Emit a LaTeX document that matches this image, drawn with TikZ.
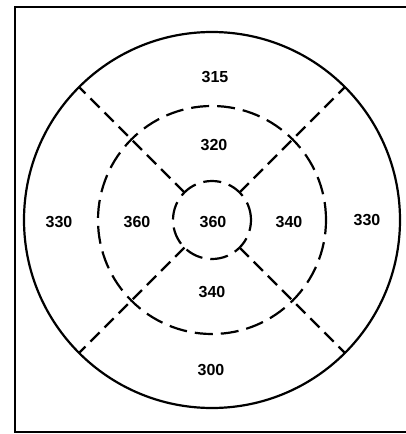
\documentclass[tikz,border=0pt]{standalone}
\usepackage{fontspec}
\setsansfont{Liberation Sans}
\usetikzlibrary{positioning}

\begin{document}
\begin{tikzpicture}[x=1pt,y=-1pt,line width=2.2pt,
  ring/.style={circle,draw,inner sep=0pt,outer sep=0pt},
  rim/.style={dash pattern=on 18pt off 8pt},
  spoke/.style={dash pattern=on 13pt off 7pt},
  zone/.style={font=\sffamily\bfseries\fontsize{16}{16}\selectfont}]
\useasboundingbox (0,0) rectangle (406,434);
% Frame
\draw (406,7) -- (15,7) -- (15,432) -- (406,432);

% Rings
\node[ring,minimum size=376pt] (outer) at (212,220) {};
\node[ring,rim,minimum size=228pt] (middle) at (212,220) {};
\node[ring,rim,minimum size=78pt] (inner) at (212,220) {};

% Spokes
\foreach \a in {45,135,225,315} {
  \draw[spoke] (inner.\a) -- (outer.\a);
}

% Values
\node[zone] (top) at (215,77) {315};
\node[zone] (upper) at (214,145) {320};
\node[zone] (farleft) at (59,222) {330};
\node[zone] (left) at (137,222) {360};
\node[zone] (centre) at (213,222) {360};
\node[zone] (right) at (289,222) {340};
\node[zone] (farright) at (367,220) {330};
\node[zone] (lower) at (212,292) {340};
\node[zone] (bottom) at (211,370) {300};
\end{tikzpicture}
\end{document}
